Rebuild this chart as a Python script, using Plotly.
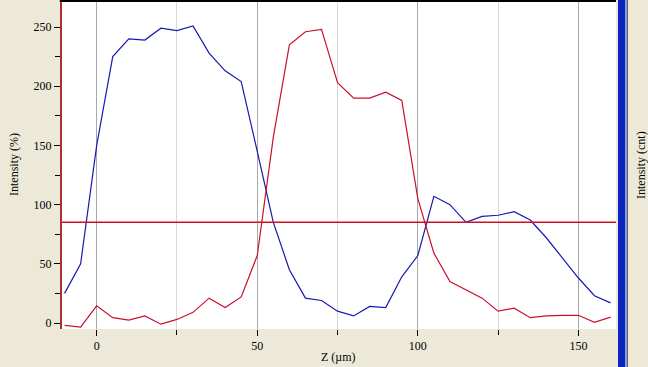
import plotly.graph_objects as go

z_um = [-10, -5, 0, 5, 10, 15, 20, 25, 30, 35, 40, 45, 50, 55, 60, 65, 70, 75, 80, 85,
        90, 95, 100, 105, 110, 115, 120, 125, 130, 135, 140, 145, 150, 155, 160]
blue_intensity = [25, 50, 150, 225, 240, 239, 249, 247, 251, 228, 213, 204, 145, 85, 45, 21,
                  19, 10, 6, 14, 13, 39, 57, 107, 100, 85, 90, 91, 94, 87, 72, 55, 38, 23, 17]
red_intensity = [-2, -3.5, 14.5, 4.5, 2.5, 6, -1, 3, 9, 21, 13, 22, 57, 157, 235, 246, 248,
                 203, 190, 190, 195, 188, 105, 59, 35, 28, 21, 10, 12.5, 4.5, 6, 6.5, 6.5, 0.5, 5]
threshold = 85
x_major = [0, 50, 100, 150]
y_major = [0, 50, 100, 150, 200, 250]

font = "Liberation Serif, Times New Roman, serif"

fig = go.Figure()
fig.add_trace(go.Scatter(x=z_um, y=blue_intensity, mode="lines",
                         line=dict(color="#1818B0", width=1.2), showlegend=False))
fig.add_trace(go.Scatter(x=z_um, y=red_intensity, mode="lines",
                         line=dict(color="#C8102E", width=1.2), showlegend=False))

fig.add_hline(y=threshold, line=dict(color="#D01020", width=1.5))

fig.update_layout(
    width=648, height=367,
    margin=dict(l=62, r=32, t=1, b=38),
    paper_bgcolor="#ECE9D8",
    plot_bgcolor="white",
    font=dict(family=font, size=12, color="black"),
    xaxis=dict(range=[-10.8, 161.7], tickvals=x_major, ticks="outside", ticklen=6,
               tickcolor="black", showgrid=True, gridcolor="#A8A8A8", gridwidth=1,
               minor=dict(tickvals=[25, 75, 125], ticks="outside", ticklen=5,
                          tickcolor="black", showgrid=True, gridcolor="#D8D8D8"),
               zeroline=False, showline=False, tickfont=dict(family=font, size=12)),
    yaxis=dict(range=[-5.07, 272], tickvals=y_major, ticks="outside", ticklen=6,
               tickcolor="black", showgrid=False, zeroline=False,
               minor=dict(tickvals=[25, 75, 125, 175, 225], ticks="outside", ticklen=5,
                          tickcolor="black"),
               showline=True, linecolor="#B03030", linewidth=2,
               tickfont=dict(family=font, size=12)),
)

# top border
fig.add_shape(type="line", xref="paper", yref="paper", x0=-0.004, x1=1.0, y0=1.0, y1=1.0,
              line=dict(color="black", width=2))
# right blue bar
fig.add_shape(type="rect", xref="paper", yref="paper", x0=(618 - 62) / 554, x1=(625 - 62) / 554,
              y0=-38 / 328, y1=1 + 1 / 328, fillcolor="#0A24C0", line=dict(width=0))
fig.add_shape(type="rect", xref="paper", yref="paper", x0=(625 - 62) / 554, x1=(627 - 62) / 554,
              y0=-38 / 328, y1=1 + 1 / 328, fillcolor="#8C9ADC", line=dict(width=0))
fig.add_shape(type="rect", xref="paper", yref="paper", x0=(627 - 62) / 554, x1=(628 - 62) / 554,
              y0=-38 / 328, y1=1 + 1 / 328, fillcolor="#606060", line=dict(width=0))

fig.add_annotation(text="Intensity (%)", xref="paper", yref="paper",
                   x=(14 - 62) / 554, y=(329 - 165) / 328, textangle=-90, showarrow=False,
                   font=dict(family=font, size=12), xanchor="center", yanchor="middle")
fig.add_annotation(text="Intensity (cnt)", xref="paper", yref="paper",
                   x=(641 - 62) / 554, y=(329 - 165) / 328, textangle=-90, showarrow=False,
                   font=dict(family=font, size=12), xanchor="center", yanchor="middle")
fig.add_annotation(text="Z (µm)", xref="paper", yref="paper",
                   x=(338 - 62) / 554, y=(329 - 357) / 328, showarrow=False,
                   font=dict(family=font, size=12), xanchor="center", yanchor="middle")

fig.write_html("out.html")
